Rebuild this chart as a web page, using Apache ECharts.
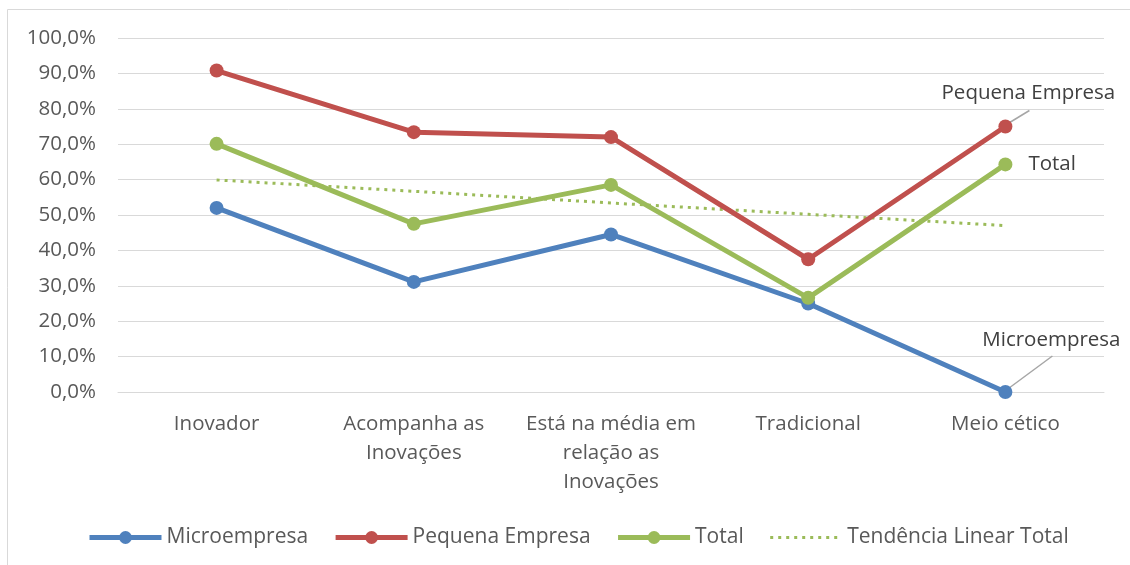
<!DOCTYPE html>
<html>
<head>
<meta charset="utf-8">
<script src="https://cdn.jsdelivr.net/npm/echarts@6/dist/echarts.min.js"></script>
<style>
    html, body { margin: 0; padding: 0; background: #fff; }
    #main { width: 1130px; height: 565px; }
</style>
</head>
<body>
<div id="main"></div>
<script>
// categorias do eixo x
let categorias = ['Inovador', 'Acompanha as\nInovações', 'Está na média em\nrelação as\nInovações', 'Tradicional', 'Meio cético'];
// valores em %
let microempresa = [52.0, 31.1, 44.5, 25.0, 0.0];
let pequenaEmpresa = [90.8, 73.4, 72.0, 37.5, 75.0];
let total = [70.1, 47.5, 58.5, 26.6, 64.3];
let tendenciaTotal = [59.9, 56.7, 53.4, 50.2, 47.0];

let fonte = '"Open Sans", sans-serif';
let azul = '#4f81bd';
let vermelho = '#c0504d';
let verde = '#9bbb59';

function rotuloFinal(valores, nome, pos, dist) {
    let dados = valores.slice();
    let ultimo = dados.length - 1;
    dados[ultimo] = {
        value: valores[ultimo],
        label: {
            show: true,
            position: pos,
            distance: dist,
            formatter: nome,
            color: '#404040',
            fontSize: 20.5,
            fontFamily: fonte
        }
    };
    return dados;
}

// desloca o rótulo em relação ao ponto
function posicaoRotulo(off) {
    return function (p) {
        let cx = p.rect.x + p.rect.width / 2;
        let cy = p.rect.y + p.rect.height / 2;
        let lx = p.labelRect.x + p.labelRect.width / 2;
        let ly = p.labelRect.y + p.labelRect.height / 2;
        return {
            dx: cx + off[0] - lx,
            dy: cy + off[1] - ly
        };
    };
}

let chart = echarts.init(document.getElementById('main'));

let option = {
    animation: false,
    textStyle: { fontFamily: fonte },
    graphic: [
        {
            type: 'rect',
            shape: { x: 7.5, y: 9.5, width: 1140, height: 580 },
            style: { fill: 'none', stroke: '#d9d9d9', lineWidth: 1 },
            silent: true
        }
    ],
    grid: {
        left: 118,
        right: 26,
        top: 38,
        bottom: 173
    },
    legend: {
        bottom: 12,
        left: 82,
        itemWidth: 72,
        itemHeight: 16,
        itemGap: 25,
        textStyle: { color: '#595959', fontSize: 21, fontFamily: fonte },
        data: [
            { name: 'Microempresa', lineStyle: { width: 5 } },
            { name: 'Pequena Empresa', lineStyle: { width: 5 } },
            { name: 'Total', lineStyle: { width: 5 } },
            { name: 'Tendência Linear Total', lineStyle: { width: 3 }, itemStyle: { color: 'transparent', borderWidth: 0 } }
        ]
    },
    xAxis: {
        type: 'category',
        data: categorias,
        axisLine: { lineStyle: { color: '#d9d9d9', width: 1 } },
        axisTick: { show: false },
        axisLabel: {
            color: '#595959',
            fontSize: 20.5,
            fontFamily: fonte,
            margin: 18,
            lineHeight: 29,
            interval: 0
        }
    },
    yAxis: {
        type: 'value',
        min: 0,
        max: 100,
        interval: 10,
        axisLine: { show: false },
        axisTick: { show: false },
        splitLine: { lineStyle: { color: '#d9d9d9', width: 1 } },
        axisLabel: {
            color: '#595959',
            fontSize: 20.5,
            fontFamily: fonte,
            margin: 22,
            formatter: function (v) {
                return v.toFixed(1).replace('.', ',') + '%';
            }
        }
    },
    series: [
        {
            name: 'Microempresa',
            type: 'line',
            data: rotuloFinal(microempresa, 'Microempresa', 'top', 5),
            symbol: 'circle',
            symbolSize: 14,
            lineStyle: { color: azul, width: 5 },
            itemStyle: { color: azul },
            labelLayout: posicaoRotulo([46, -52]),
            z: 3
        },
        {
            name: 'Pequena Empresa',
            type: 'line',
            data: rotuloFinal(pequenaEmpresa, 'Pequena Empresa', 'top', 5),
            symbol: 'circle',
            symbolSize: 14,
            lineStyle: { color: vermelho, width: 5 },
            itemStyle: { color: vermelho },
            labelLayout: posicaoRotulo([23, -33]),
            z: 3
        },
        {
            name: 'Total',
            type: 'line',
            data: rotuloFinal(total, 'Total', 'right', 16),
            symbol: 'circle',
            symbolSize: 14,
            lineStyle: { color: verde, width: 5 },
            itemStyle: { color: verde },
            z: 3
        },
        {
            name: 'Tendência Linear Total',
            type: 'line',
            data: tendenciaTotal,
            symbol: 'none',
            lineStyle: { color: verde, width: 3, type: [3, 5] },
            itemStyle: { color: verde },
            z: 2
        }
    ]
};

chart.setOption(option);

// linhas de chamada dos rótulos, a partir da posição do último ponto
let ultimo = categorias.length - 1;
let pMicro = chart.convertToPixel({ seriesIndex: 0 }, [ultimo, microempresa[ultimo]]);
let pPeq = chart.convertToPixel({ seriesIndex: 1 }, [ultimo, pequenaEmpresa[ultimo]]);

function chamada(p, ini, fim) {
    return new echarts.graphic.Line({
        silent: true,
        z: 1,
        shape: { x1: p[0] + ini[0], y1: p[1] + ini[1], x2: p[0] + fim[0], y2: p[1] + fim[1] },
        style: { stroke: '#a6a6a6', lineWidth: 1.5 }
    });
}

chart.getZr().add(chamada(pMicro, [1, -2], [47, -36]));
chart.getZr().add(chamada(pPeq, [1, -2], [24, -16]));
</script>
</body>
</html>
